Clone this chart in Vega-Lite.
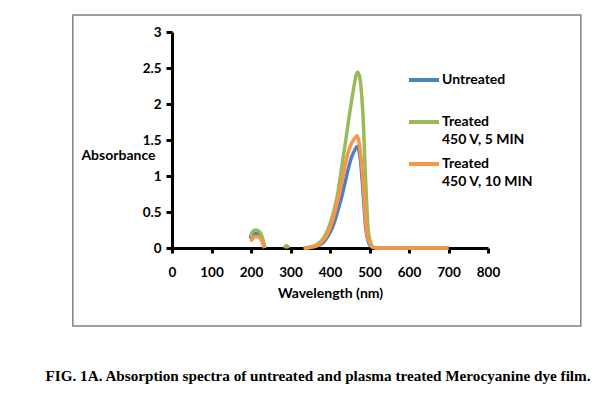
{
  "$schema": "https://vega.github.io/schema/vega-lite/v6.json",
  "autosize": "none",
  "width": 316,
  "height": 216,
  "padding": {"left": 172, "top": 32, "right": 127, "bottom": 150},
  "background": "white",
  "config": {
    "view": {"stroke": null},
    "font": "Lato",
    "style": {"guide-label": {"lineHeight": 18}},
    "axis": {"labelFont": "Lato", "titleFont": "Lato", "labelFontWeight": "bold", "titleFontWeight": "bold", "labelFontSize": 13.5, "titleFontSize": 14, "labelColor": "black", "titleColor": "black", "domainColor": "black", "tickColor": "black", "domainWidth": 3, "tickWidth": 3, "grid": false, "labelOverlap": false}
  },
  "title": {
    "text": "FIG. 1A. Absorption spectra of untreated and plasma treated Merocyanine dye film.",
    "orient": "bottom",
    "anchor": "middle",
    "frame": "group",
    "font": "Liberation Serif",
    "fontSize": 15.2,
    "fontWeight": "bold",
    "color": "black",
    "offset": 42,
    "dx": -12
  },
  "datasets": {
    "spectra": [
      {"series": "Untreated|", "seg": 1, "wl": 198, "abs": 0.13},
      {"series": "Untreated|", "seg": 1, "wl": 203, "abs": 0.18},
      {"series": "Untreated|", "seg": 1, "wl": 210, "abs": 0.2},
      {"series": "Untreated|", "seg": 1, "wl": 217, "abs": 0.195},
      {"series": "Untreated|", "seg": 1, "wl": 224, "abs": 0.17},
      {"series": "Untreated|", "seg": 1, "wl": 229, "abs": 0.12},
      {"series": "Untreated|", "seg": 1, "wl": 233, "abs": 0.04},
      {"series": "Untreated|", "seg": 1, "wl": 235, "abs": 0},
      {"series": "Untreated|", "seg": 2, "wl": 335, "abs": 0},
      {"series": "Untreated|", "seg": 2, "wl": 350, "abs": 0.01},
      {"series": "Untreated|", "seg": 2, "wl": 373, "abs": 0.04},
      {"series": "Untreated|", "seg": 2, "wl": 385, "abs": 0.09},
      {"series": "Untreated|", "seg": 2, "wl": 394, "abs": 0.16},
      {"series": "Untreated|", "seg": 2, "wl": 404, "abs": 0.26},
      {"series": "Untreated|", "seg": 2, "wl": 413, "abs": 0.39},
      {"series": "Untreated|", "seg": 2, "wl": 422, "abs": 0.56},
      {"series": "Untreated|", "seg": 2, "wl": 432, "abs": 0.76},
      {"series": "Untreated|", "seg": 2, "wl": 442, "abs": 1.0},
      {"series": "Untreated|", "seg": 2, "wl": 452, "abs": 1.22},
      {"series": "Untreated|", "seg": 2, "wl": 460, "abs": 1.33},
      {"series": "Untreated|", "seg": 2, "wl": 469, "abs": 1.41},
      {"series": "Untreated|", "seg": 2, "wl": 473, "abs": 1.36},
      {"series": "Untreated|", "seg": 2, "wl": 477, "abs": 1.22},
      {"series": "Untreated|", "seg": 2, "wl": 484, "abs": 0.76},
      {"series": "Untreated|", "seg": 2, "wl": 490, "abs": 0.3},
      {"series": "Untreated|", "seg": 2, "wl": 494, "abs": 0.15},
      {"series": "Untreated|", "seg": 2, "wl": 498, "abs": 0.07},
      {"series": "Untreated|", "seg": 2, "wl": 508, "abs": 0.01},
      {"series": "Untreated|", "seg": 2, "wl": 520, "abs": 0},
      {"series": "Untreated|", "seg": 2, "wl": 600, "abs": 0},
      {"series": "Untreated|", "seg": 2, "wl": 700, "abs": 0},

      {"series": "Treated| 450 V, 5 MIN", "seg": 1, "wl": 198, "abs": 0.15},
      {"series": "Treated| 450 V, 5 MIN", "seg": 1, "wl": 202, "abs": 0.21},
      {"series": "Treated| 450 V, 5 MIN", "seg": 1, "wl": 207, "abs": 0.24},
      {"series": "Treated| 450 V, 5 MIN", "seg": 1, "wl": 212, "abs": 0.25},
      {"series": "Treated| 450 V, 5 MIN", "seg": 1, "wl": 218, "abs": 0.24},
      {"series": "Treated| 450 V, 5 MIN", "seg": 1, "wl": 224, "abs": 0.21},
      {"series": "Treated| 450 V, 5 MIN", "seg": 1, "wl": 229, "abs": 0.14},
      {"series": "Treated| 450 V, 5 MIN", "seg": 1, "wl": 233, "abs": 0.05},
      {"series": "Treated| 450 V, 5 MIN", "seg": 1, "wl": 235, "abs": 0},
      {"series": "Treated| 450 V, 5 MIN", "seg": 2, "wl": 284, "abs": 0},
      {"series": "Treated| 450 V, 5 MIN", "seg": 2, "wl": 290, "abs": 0.035},
      {"series": "Treated| 450 V, 5 MIN", "seg": 2, "wl": 296, "abs": 0},
      {"series": "Treated| 450 V, 5 MIN", "seg": 3, "wl": 335, "abs": 0},
      {"series": "Treated| 450 V, 5 MIN", "seg": 3, "wl": 350, "abs": 0.01},
      {"series": "Treated| 450 V, 5 MIN", "seg": 3, "wl": 365, "abs": 0.04},
      {"series": "Treated| 450 V, 5 MIN", "seg": 3, "wl": 380, "abs": 0.11},
      {"series": "Treated| 450 V, 5 MIN", "seg": 3, "wl": 395, "abs": 0.26},
      {"series": "Treated| 450 V, 5 MIN", "seg": 3, "wl": 410, "abs": 0.52},
      {"series": "Treated| 450 V, 5 MIN", "seg": 3, "wl": 420, "abs": 0.77},
      {"series": "Treated| 450 V, 5 MIN", "seg": 3, "wl": 430, "abs": 1.14},
      {"series": "Treated| 450 V, 5 MIN", "seg": 3, "wl": 440, "abs": 1.5},
      {"series": "Treated| 450 V, 5 MIN", "seg": 3, "wl": 450, "abs": 1.88},
      {"series": "Treated| 450 V, 5 MIN", "seg": 3, "wl": 460, "abs": 2.22},
      {"series": "Treated| 450 V, 5 MIN", "seg": 3, "wl": 466, "abs": 2.4},
      {"series": "Treated| 450 V, 5 MIN", "seg": 3, "wl": 470, "abs": 2.44},
      {"series": "Treated| 450 V, 5 MIN", "seg": 3, "wl": 475, "abs": 2.38},
      {"series": "Treated| 450 V, 5 MIN", "seg": 3, "wl": 480, "abs": 2.14},
      {"series": "Treated| 450 V, 5 MIN", "seg": 3, "wl": 485, "abs": 1.68},
      {"series": "Treated| 450 V, 5 MIN", "seg": 3, "wl": 488, "abs": 1.22},
      {"series": "Treated| 450 V, 5 MIN", "seg": 3, "wl": 492, "abs": 0.72},
      {"series": "Treated| 450 V, 5 MIN", "seg": 3, "wl": 496, "abs": 0.3},
      {"series": "Treated| 450 V, 5 MIN", "seg": 3, "wl": 502, "abs": 0.09},
      {"series": "Treated| 450 V, 5 MIN", "seg": 3, "wl": 510, "abs": 0.01},
      {"series": "Treated| 450 V, 5 MIN", "seg": 3, "wl": 520, "abs": 0},
      {"series": "Treated| 450 V, 5 MIN", "seg": 3, "wl": 600, "abs": 0},
      {"series": "Treated| 450 V, 5 MIN", "seg": 3, "wl": 700, "abs": 0},

      {"series": "Treated| 450 V, 10 MIN", "seg": 1, "wl": 199, "abs": 0.09},
      {"series": "Treated| 450 V, 10 MIN", "seg": 1, "wl": 204, "abs": 0.13},
      {"series": "Treated| 450 V, 10 MIN", "seg": 1, "wl": 210, "abs": 0.16},
      {"series": "Treated| 450 V, 10 MIN", "seg": 1, "wl": 216, "abs": 0.16},
      {"series": "Treated| 450 V, 10 MIN", "seg": 1, "wl": 222, "abs": 0.14},
      {"series": "Treated| 450 V, 10 MIN", "seg": 1, "wl": 227, "abs": 0.1},
      {"series": "Treated| 450 V, 10 MIN", "seg": 1, "wl": 231, "abs": 0.05},
      {"series": "Treated| 450 V, 10 MIN", "seg": 1, "wl": 234, "abs": 0},
      {"series": "Treated| 450 V, 10 MIN", "seg": 2, "wl": 333, "abs": 0},
      {"series": "Treated| 450 V, 10 MIN", "seg": 2, "wl": 350, "abs": 0.01},
      {"series": "Treated| 450 V, 10 MIN", "seg": 2, "wl": 369, "abs": 0.04},
      {"series": "Treated| 450 V, 10 MIN", "seg": 2, "wl": 380, "abs": 0.09},
      {"series": "Treated| 450 V, 10 MIN", "seg": 2, "wl": 390, "abs": 0.16},
      {"series": "Treated| 450 V, 10 MIN", "seg": 2, "wl": 400, "abs": 0.28},
      {"series": "Treated| 450 V, 10 MIN", "seg": 2, "wl": 407, "abs": 0.39},
      {"series": "Treated| 450 V, 10 MIN", "seg": 2, "wl": 415, "abs": 0.56},
      {"series": "Treated| 450 V, 10 MIN", "seg": 2, "wl": 424, "abs": 0.76},
      {"series": "Treated| 450 V, 10 MIN", "seg": 2, "wl": 433, "abs": 1.0},
      {"series": "Treated| 450 V, 10 MIN", "seg": 2, "wl": 441, "abs": 1.22},
      {"series": "Treated| 450 V, 10 MIN", "seg": 2, "wl": 448, "abs": 1.36},
      {"series": "Treated| 450 V, 10 MIN", "seg": 2, "wl": 454, "abs": 1.45},
      {"series": "Treated| 450 V, 10 MIN", "seg": 2, "wl": 462, "abs": 1.52},
      {"series": "Treated| 450 V, 10 MIN", "seg": 2, "wl": 469, "abs": 1.56},
      {"series": "Treated| 450 V, 10 MIN", "seg": 2, "wl": 474, "abs": 1.45},
      {"series": "Treated| 450 V, 10 MIN", "seg": 2, "wl": 479, "abs": 1.22},
      {"series": "Treated| 450 V, 10 MIN", "seg": 2, "wl": 486, "abs": 0.76},
      {"series": "Treated| 450 V, 10 MIN", "seg": 2, "wl": 491, "abs": 0.3},
      {"series": "Treated| 450 V, 10 MIN", "seg": 2, "wl": 496, "abs": 0.13},
      {"series": "Treated| 450 V, 10 MIN", "seg": 2, "wl": 500, "abs": 0.07},
      {"series": "Treated| 450 V, 10 MIN", "seg": 2, "wl": 510, "abs": 0.01},
      {"series": "Treated| 450 V, 10 MIN", "seg": 2, "wl": 520, "abs": 0},
      {"series": "Treated| 450 V, 10 MIN", "seg": 2, "wl": 600, "abs": 0},
      {"series": "Treated| 450 V, 10 MIN", "seg": 2, "wl": 700, "abs": 0}
    ]
  },
  "layer": [
    {
      "data": {"name": "spectra"},
      "mark": {"type": "line", "strokeWidth": 3.5, "interpolate": "monotone", "clip": false},
      "encoding": {
        "x": {
          "field": "wl", "type": "quantitative",
          "scale": {"domain": [0, 800], "nice": false},
          "axis": {"title": "Wavelength (nm)", "values": [0, 100, 200, 300, 400, 500, 600, 700, 800], "format": ".1~f", "tickSize": 5, "labelPadding": 12, "titlePadding": 8, "labelFlush": false, "labelOverlap": false}
        },
        "y": {
          "field": "abs", "type": "quantitative",
          "scale": {"domain": [0, 3], "nice": false},
          "axis": {"title": "Absorbance", "values": [0, 0.5, 1, 1.5, 2, 2.5, 3], "format": ".1~f", "tickSize": 6, "labelPadding": 5, "labelOverlap": false, "titleAngle": 0, "titleAlign": "right", "titleBaseline": "middle", "titleX": -17, "titleY": 123}
        },
        "color": {
          "field": "series", "type": "nominal",
          "scale": {"domain": ["Untreated|", "Treated| 450 V, 5 MIN", "Treated| 450 V, 10 MIN"], "range": ["#4F81BD", "#9BBB59", "#F79646"]},
          "legend": {
            "title": null, "orient": "none", "legendX": 235, "legendY": 31,
            "symbolType": "stroke", "symbolSize": 900, "symbolStrokeWidth": 4,
            "labelFont": "Lato", "labelFontWeight": "bold", "labelFontSize": 14, "labelColor": "black",
            "labelExpr": "split(datum.label, '|')", "labelOffset": 1, "labelLimit": 200, "rowPadding": 0
          }
        },
        "detail": {"field": "seg", "type": "nominal"}
      }
    },
    {
      "data": {"values": [{"box": "frame"}]},
      "mark": {"type": "rect", "fill": null, "stroke": "#808080", "strokeWidth": 1.5, "clip": false},
      "encoding": {
        "x": {
          "datum": -251, "type": "quantitative",
          "axis": {"title": "Wavelength (nm)", "values": [0, 100, 200, 300, 400, 500, 600, 700, 800], "format": ".1~f", "tickSize": 5, "labelPadding": 12, "titlePadding": 8, "labelFlush": false, "labelOverlap": false}
        },
        "x2": {"datum": 1035},
        "y": {
          "datum": 3.236, "type": "quantitative",
          "axis": {"title": "Absorbance", "values": [0, 0.5, 1, 1.5, 2, 2.5, 3], "format": ".1~f", "tickSize": 6, "labelPadding": 5, "labelOverlap": false, "titleAngle": 0, "titleAlign": "right", "titleBaseline": "middle", "titleX": -17, "titleY": 123}
        },
        "y2": {"datum": -1.083}
      }
    }
  ]
}
